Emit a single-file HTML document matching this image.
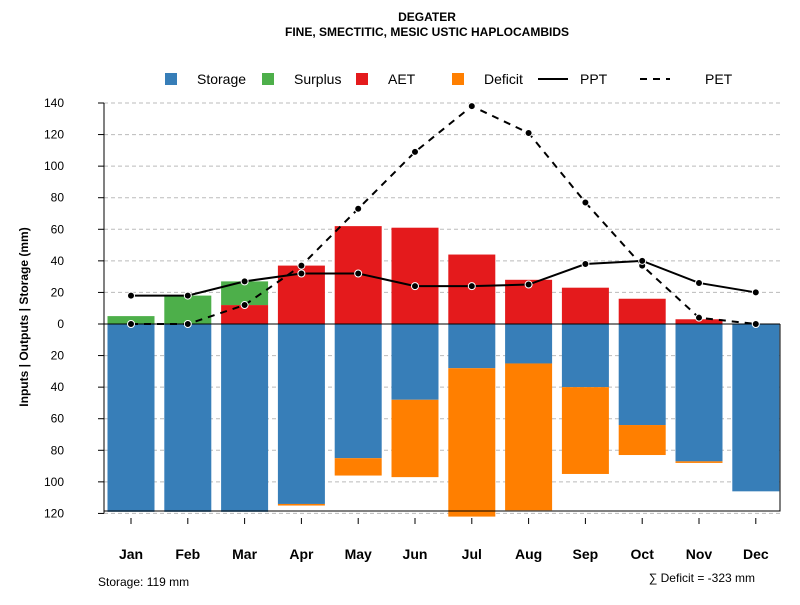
<!DOCTYPE html>
<html><head><meta charset="utf-8"><style>
body{margin:0;background:#fff;font-family:"Liberation Sans",sans-serif}
svg text{font-family:"Liberation Sans",sans-serif}
</style></head><body>
<svg id="c" width="800" height="600" xmlns="http://www.w3.org/2000/svg">
<text x="427" y="21" text-anchor="middle" font-size="12" font-weight="bold">DEGATER</text>
<text x="427" y="36" text-anchor="middle" font-size="12" font-weight="bold">FINE, SMECTITIC, MESIC USTIC HAPLOCAMBIDS</text>
<g id="legend" font-size="14">
<g><rect x="165" y="73" width="12" height="12" fill="#377eb8"/><text x="197" y="84">Storage</text></g>
<g><rect x="262" y="73" width="12" height="12" fill="#4daf4a"/><text x="294" y="84">Surplus</text></g>
<g><rect x="356" y="73" width="12" height="12" fill="#e41a1c"/><text x="388" y="84">AET</text></g>
<g><rect x="452" y="73" width="12" height="12" fill="#ff7f00"/><text x="484" y="84">Deficit</text></g>
<g><line x1="538" y1="79" x2="568" y2="79" stroke="#000" stroke-width="2"/><text x="580" y="84">PPT</text></g>
<g><line x1="640" y1="79" x2="670" y2="79" stroke="#000" stroke-width="2" stroke-dasharray="7,6"/><text x="705" y="84">PET</text></g>
</g>
<text transform="translate(28,317) rotate(-90)" text-anchor="middle" font-size="12" font-weight="bold">Inputs | Outputs | Storage    (mm)</text>
<text x="98" y="586" font-size="12">Storage: 119 mm</text>
<text x="755" y="582" text-anchor="end" font-size="12">∑ Deficit = -323 mm</text>
<g id="grid"></g><g id="bars"></g><g id="lines"></g><g id="axes"></g>
</svg>
<script>
const months=["Jan","Feb","Mar","Apr","May","Jun","Jul","Aug","Sep","Oct","Nov","Dec"];
const storage=[119,119,119,114,85,48,28,25,40,64,87,106];
const deficit=[0,0,0,1,11,49,94,93,55,19,1,0];
const aet=[0,0,12,37,62,61,44,28,23,16,3,0];
const surplus=[5,18,15,0,0,0,0,0,0,0,0,0];
const ppt=[18,18,27,32,32,24,24,25,38,40,26,20];
const pet=[0,0,12,37,73,109,138,121,77,37,4,0];
const yTicks=[140,120,100,80,60,40,20,0,-20,-40,-60,-80,-100,-120];
const NS="http://www.w3.org/2000/svg";
const y=v=>324-v*1.5786;
const x=i=>131+i*56.8;
const bw=47;
function mk(t,a,p){const e=document.createElementNS(NS,t);for(const k in a)e.setAttribute(k,a[k]);p.appendChild(e);return e;}
const g=document.getElementById('grid'),b=document.getElementById('bars'),l=document.getElementById('lines'),ax=document.getElementById('axes');
yTicks.forEach(t=>{
 if(t!==0){const ln=mk('line',{x1:104,x2:780,y1:y(t),y2:y(t),stroke:'#bbb','stroke-dasharray':'4,3'},g);
 
 }
 const tk=mk('line',{x1:98,x2:104,y1:y(t),y2:y(t),stroke:'#000'},ax);
 
 
 const tx=mk('text',{x:64,y:y(t)+4,'font-size':12,'text-anchor':'end'},ax);tx.textContent=Math.abs(t);
 
 
});
mk('line',{x1:104,x2:104,y1:y(140),y2:y(-120),stroke:'#000'},ax);
function bar(i,v0,v1,c,name){if(v1===v0)return;const r=mk('rect',{x:x(i)-bw/2,width:bw,y:Math.min(y(v0),y(v1)),height:Math.abs(y(v1)-y(v0)),fill:c},b);
 
 }
months.forEach((m,i)=>{
 bar(i,0,-storage[i],'#377eb8','bar-storage-'+m.toLowerCase());
 bar(i,-storage[i],-storage[i]-deficit[i],'#ff7f00','bar-deficit-'+m.toLowerCase());
 bar(i,0,aet[i],'#e41a1c','bar-aet-'+m.toLowerCase());
 bar(i,aet[i],aet[i]+surplus[i],'#4daf4a','bar-surplus-'+m.toLowerCase());
 const tk=mk('line',{x1:x(i),x2:x(i),y1:518,y2:524,stroke:'#000'},ax);
 
 
 const tx=mk('text',{x:x(i),y:559,'font-size':14,'font-weight':'bold','text-anchor':'middle'},ax);tx.textContent=m;
 
 
});
mk('line',{x1:104,x2:780,y1:324,y2:324,stroke:'#000'},b);
mk('polyline',{points:'104,511 780,511 780,324',fill:'none',stroke:'#000'},b);
function series(arr,dash,name){
 const p=mk('polyline',{points:arr.map((v,i)=>x(i)+','+y(v)).join(' '),fill:'none',stroke:'#000','stroke-width':2,'stroke-dasharray':dash},l);
 
 
 arr.forEach((v,i)=>{const c=mk('circle',{cx:x(i),cy:y(v),r:3.5,fill:'#000',stroke:'#fff','stroke-width':1},l);
 
 });
}
series(pet,'7,6','pet');
series(ppt,'','ppt');
</script>
</body></html>
